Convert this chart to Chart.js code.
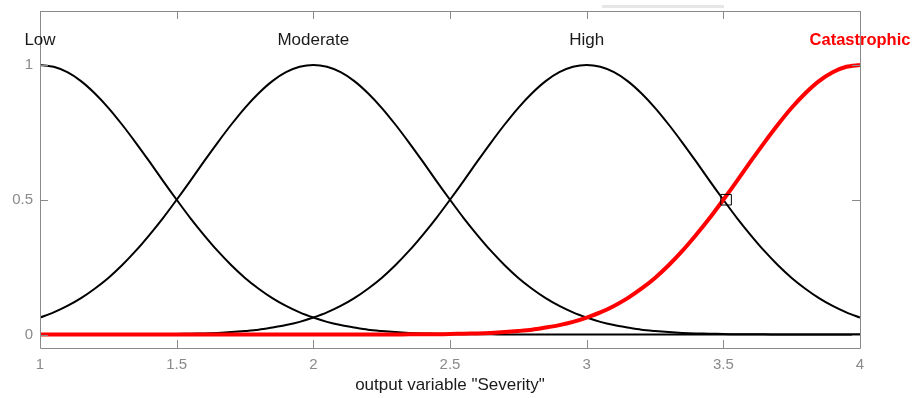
<!DOCTYPE html>
<html>
<head>
<meta charset="utf-8">
<script src="https://cdn.jsdelivr.net/npm/chart.js@4/dist/chart.umd.min.js"></script>
<style>
  html, body { margin: 0; padding: 0; background: #fff; }
  #wrap { width: 912px; height: 398px; position: relative; }
</style>
</head>
<body>
<div id="wrap"><canvas id="c" width="912" height="398"></canvas></div>
<script>
// Membership functions of the output variable "Severity"
const xValues = [1.00, 1.05, 1.10, 1.15, 1.20, 1.25, 1.30, 1.35, 1.40, 1.45,
                 1.50, 1.55, 1.60, 1.65, 1.70, 1.75, 1.80, 1.85, 1.90, 1.95,
                 2.00, 2.05, 2.10, 2.15, 2.20, 2.25, 2.30, 2.35, 2.40, 2.45,
                 2.50, 2.55, 2.60, 2.65, 2.70, 2.75, 2.80, 2.85, 2.90, 2.95,
                 3.00, 3.05, 3.10, 3.15, 3.20, 3.25, 3.30, 3.35, 3.40, 3.45,
                 3.50, 3.55, 3.60, 3.65, 3.70, 3.75, 3.80, 3.85, 3.90, 3.95,
                 4.00];

const lowMF = [1.000, 0.993, 0.973, 0.940, 0.895, 0.841, 0.779, 0.712, 0.642, 0.570,
               0.500, 0.432, 0.369, 0.310, 0.257, 0.210, 0.170, 0.135, 0.106, 0.082,
               0.063, 0.047, 0.035, 0.026, 0.018, 0.013, 0.009, 0.006, 0.004, 0.003,
               0.002, 0.001, 0.001, 0.001, 0.000, 0.000, 0.000, 0.000, 0.000, 0.000,
               0.000, 0.000, 0.000, 0.000, 0.000, 0.000, 0.000, 0.000, 0.000, 0.000,
               0.000, 0.000, 0.000, 0.000, 0.000, 0.000, 0.000, 0.000, 0.000, 0.000,
               0.000];

const moderateMF = [0.063, 0.082, 0.106, 0.135, 0.170, 0.210, 0.257, 0.310, 0.369, 0.432,
                    0.500, 0.570, 0.642, 0.712, 0.779, 0.841, 0.895, 0.940, 0.973, 0.993,
                    1.000, 0.993, 0.973, 0.940, 0.895, 0.841, 0.779, 0.712, 0.642, 0.570,
                    0.500, 0.432, 0.369, 0.310, 0.257, 0.210, 0.170, 0.135, 0.106, 0.082,
                    0.063, 0.047, 0.035, 0.026, 0.018, 0.013, 0.009, 0.006, 0.004, 0.003,
                    0.002, 0.001, 0.001, 0.001, 0.000, 0.000, 0.000, 0.000, 0.000, 0.000,
                    0.000];

const highMF = [0.000, 0.000, 0.000, 0.000, 0.000, 0.000, 0.000, 0.001, 0.001, 0.001,
                0.002, 0.003, 0.004, 0.006, 0.009, 0.013, 0.018, 0.026, 0.035, 0.047,
                0.063, 0.082, 0.106, 0.135, 0.170, 0.210, 0.257, 0.310, 0.369, 0.432,
                0.500, 0.570, 0.642, 0.712, 0.779, 0.841, 0.895, 0.940, 0.973, 0.993,
                1.000, 0.993, 0.973, 0.940, 0.895, 0.841, 0.779, 0.712, 0.642, 0.570,
                0.500, 0.432, 0.369, 0.310, 0.257, 0.210, 0.170, 0.135, 0.106, 0.082,
                0.063];

const catastrophicMF = [0.000, 0.000, 0.000, 0.000, 0.000, 0.000, 0.000, 0.000, 0.000, 0.000,
                        0.000, 0.000, 0.000, 0.000, 0.000, 0.000, 0.000, 0.000, 0.000, 0.000,
                        0.000, 0.000, 0.000, 0.000, 0.000, 0.000, 0.000, 0.001, 0.001, 0.001,
                        0.002, 0.003, 0.004, 0.006, 0.009, 0.013, 0.018, 0.026, 0.035, 0.047,
                        0.063, 0.082, 0.106, 0.135, 0.170, 0.210, 0.257, 0.310, 0.369, 0.432,
                        0.500, 0.570, 0.642, 0.712, 0.779, 0.841, 0.895, 0.940, 0.973, 0.993,
                        1.000];

const mfNames = ['Low', 'Moderate', 'High', 'Catastrophic'];
const mfPeaks = [1, 2, 3, 4];
const xTicks = [1, 1.5, 2, 2.5, 3, 3.5, 4];
const yTicks = [0, 0.5, 1];
const crossPoint = [{ x: 3.51, y: 0.5 }];
const axisTitle = 'output variable "Severity"';

const FONT = '"Liberation Sans", Arial, Helvetica, sans-serif';
const GREY = '#8a8a8a';

function series(vals) {
  return xValues.map((x, i) => ({ x: x, y: vals[i] }));
}

function curve(vals, color, width, order) {
  return {
    data: series(vals),
    borderColor: color,
    borderWidth: width,
    pointRadius: 0,
    fill: false,
    tension: 0.3,
    order: order
  };
}

// Frame, inward tick marks, MF names, axis title
const decorations = {
  id: 'decorations',
  afterDraw(chart) {
    const { ctx, chartArea: a, scales } = chart;
    const xs = scales.x, ys = scales.y;
    ctx.save();

    // thin bar above the axes
    ctx.fillStyle = '#e6e6e6';
    ctx.fillRect(602, 5, 122, 3);

    ctx.strokeStyle = GREY;
    ctx.lineWidth = 1;
    ctx.beginPath();
    ctx.rect(Math.round(a.left) + 0.5, Math.round(a.top) + 0.5,
             Math.round(a.right - a.left), Math.round(a.bottom - a.top));
    const tl = 8;
    xTicks.forEach(v => {
      const px = Math.round(xs.getPixelForValue(v)) + 0.5;
      ctx.moveTo(px, a.bottom); ctx.lineTo(px, a.bottom - tl);
      ctx.moveTo(px, a.top); ctx.lineTo(px, a.top + tl);
    });
    yTicks.forEach(v => {
      const py = Math.round(ys.getPixelForValue(v)) + 0.5;
      ctx.moveTo(a.left, py); ctx.lineTo(a.left + tl, py);
      ctx.moveTo(a.right, py); ctx.lineTo(a.right - tl, py);
    });
    ctx.stroke();

    // membership function names above each peak
    ctx.textAlign = 'center';
    ctx.textBaseline = 'middle';
    mfNames.forEach((name, i) => {
      const last = i === mfNames.length - 1;
      ctx.font = (last ? 'bold 16.5px ' : '17px ') + FONT;
      ctx.fillStyle = last ? '#ff0000' : '#1a1a1a';
      ctx.fillText(name, xs.getPixelForValue(mfPeaks[i]), ys.getPixelForValue(1.09));
    });

    // axis title
    ctx.font = '17px ' + FONT;
    ctx.fillStyle = '#1a1a1a';
    ctx.fillText(axisTitle, (a.left + a.right) / 2, 385);
    ctx.restore();
  }
};

new Chart(document.getElementById('c'), {
  type: 'line',
  data: {
    datasets: [
      {
        type: 'scatter',
        data: crossPoint,
        pointStyle: 'rect',
        pointRadius: 7.5,
        pointBorderColor: '#000',
        pointBackgroundColor: 'rgba(0,0,0,0)',
        pointBorderWidth: 1,
        order: 0
      },
      curve(catastrophicMF, '#ff0000', 4, 1),
      curve(lowMF, '#000000', 2, 2),
      curve(moderateMF, '#000000', 2, 3),
      curve(highMF, '#000000', 2, 4)
    ]
  },
  options: {
    responsive: false,
    animation: false,
    events: [],
    layout: { padding: { top: 11, right: 52, left: 0, bottom: 0 } },
    plugins: { legend: { display: false }, tooltip: { enabled: false } },
    scales: {
      x: {
        type: 'linear',
        min: 1, max: 4,
        grid: { display: false, drawTicks: false },
        border: { display: false },
        ticks: { color: GREY, font: { size: 15, family: FONT }, padding: 8, maxRotation: 0,
                 callback: v => String(v) },
        afterBuildTicks: s => { s.ticks = xTicks.map(v => ({ value: v })); },
        afterFit: s => { s.height = 50; s.paddingLeft = 0; s.paddingRight = 0; }
      },
      y: {
        type: 'linear',
        min: -0.05, max: 1.2,
        grid: { display: false, drawTicks: false },
        border: { display: false },
        ticks: { color: GREY, font: { size: 15, family: FONT }, padding: 7,
                 callback: v => String(v) },
        afterBuildTicks: s => { s.ticks = yTicks.map(v => ({ value: v })); },
        afterFit: s => { s.width = 40; s.paddingTop = 0; s.paddingBottom = 0; }
      }
    }
  },
  plugins: [decorations]
});
</script>
</body>
</html>
